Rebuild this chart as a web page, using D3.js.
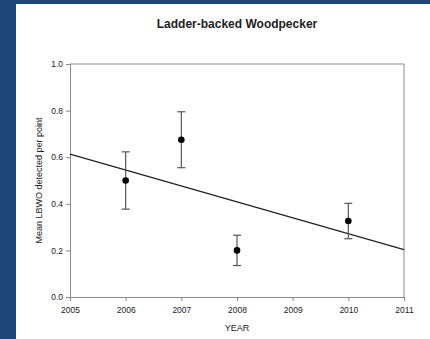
<!DOCTYPE html>
<html>
<head>
<meta charset="utf-8">
<script src="https://cdn.jsdelivr.net/npm/d3@7"></script>
<style>
  html, body { margin: 0; padding: 0; background: #1f4676; }
  svg { display: block; }
  text { font-family: "Liberation Sans", Arial, sans-serif; fill: #222; }
</style>
</head>
<body>
<svg id="chart" width="430" height="339"></svg>
<script>
// Survey years and mean detections per point, with error half-widths
const years = [2006, 2007, 2008, 2010];
const means = [0.50, 0.675, 0.20, 0.326];
const errors = [0.123, 0.12, 0.065, 0.076];

// Fitted linear trend, given by its values at the ends of the x range
const trendYears = [2005, 2011];
const trendValues = [0.613, 0.203];

const xTicks = [2005, 2006, 2007, 2008, 2009, 2010, 2011];
const yTicks = [0.0, 0.2, 0.4, 0.6, 0.8, 1.0];

const svg = d3.select("#chart");

// Slide background and white panel
svg.append("rect").attr("x", 0).attr("y", 0).attr("width", 430).attr("height", 339).attr("fill", "#1f4676");
svg.append("rect").attr("x", 16).attr("y", 4).attr("width", 414).attr("height", 335).attr("fill", "#ffffff");

const plot = { left: 70, right: 404, top: 64, bottom: 297 };

const x = d3.scaleLinear().domain([2005, 2011]).range([plot.left, plot.right]);
const y = d3.scaleLinear().domain([0, 1]).range([plot.bottom, plot.top]);

const axisColor = "#8a8a8a";

// Frame: top and right edges
svg.append("line").attr("x1", plot.left).attr("x2", plot.right).attr("y1", plot.top).attr("y2", plot.top)
  .attr("stroke", axisColor).attr("stroke-width", 1);
svg.append("line").attr("x1", plot.right).attr("x2", plot.right).attr("y1", plot.top).attr("y2", plot.bottom)
  .attr("stroke", axisColor).attr("stroke-width", 1);

// Axes
const xAxis = svg.append("g").attr("transform", `translate(0,${plot.bottom})`)
  .call(d3.axisBottom(x).tickValues(xTicks).tickFormat(d3.format("d")).tickSizeOuter(0).tickSize(4).tickPadding(6));
const yAxis = svg.append("g").attr("transform", `translate(${plot.left},0)`)
  .call(d3.axisLeft(y).tickValues(yTicks).tickFormat(d3.format(".1f")).tickSizeOuter(0).tickSize(4).tickPadding(3));

[xAxis, yAxis].forEach(g => {
  g.select(".domain").attr("stroke", axisColor);
  g.selectAll(".tick line").attr("stroke", axisColor);
  g.selectAll(".tick text").attr("fill", "#222").style("font-size", "8.5px")
    .style("font-family", '"Liberation Sans", Arial, sans-serif');
});

// Trend line
svg.append("line")
  .attr("x1", x(trendYears[0])).attr("y1", y(trendValues[0]))
  .attr("x2", x(trendYears[1])).attr("y2", y(trendValues[1]))
  .attr("stroke", "#222").attr("stroke-width", 1.2);

// Error bars
const data = years.map((yr, i) => ({ yr, m: means[i], e: errors[i] }));
const bars = svg.append("g");
bars.selectAll("line.v").data(data).join("line").attr("class", "v")
  .attr("x1", d => x(d.yr)).attr("x2", d => x(d.yr))
  .attr("y1", d => y(d.m + d.e)).attr("y2", d => y(d.m - d.e))
  .attr("stroke", "#555").attr("stroke-width", 1.2);
bars.selectAll("line.t").data(data).join("line").attr("class", "t")
  .attr("x1", d => x(d.yr) - 4).attr("x2", d => x(d.yr) + 4)
  .attr("y1", d => y(d.m + d.e)).attr("y2", d => y(d.m + d.e))
  .attr("stroke", "#555").attr("stroke-width", 1.2);
bars.selectAll("line.b").data(data).join("line").attr("class", "b")
  .attr("x1", d => x(d.yr) - 4).attr("x2", d => x(d.yr) + 4)
  .attr("y1", d => y(d.m - d.e)).attr("y2", d => y(d.m - d.e))
  .attr("stroke", "#555").attr("stroke-width", 1.2);

// Mean points
svg.append("g").selectAll("circle").data(data).join("circle")
  .attr("cx", d => x(d.yr)).attr("cy", d => y(d.m)).attr("r", 3.3)
  .attr("fill", "#000");

// Title and axis labels
svg.append("text").attr("x", 237).attr("y", 28).attr("text-anchor", "middle")
  .style("font-size", "12px").style("font-weight", "bold").text("Ladder-backed Woodpecker");
svg.append("text").attr("x", 237).attr("y", 331).attr("text-anchor", "middle")
  .style("font-size", "9px").text("YEAR");
svg.append("text").attr("transform", `translate(42,${(plot.top + plot.bottom) / 2}) rotate(-90)`)
  .attr("text-anchor", "middle").style("font-size", "9px").text("Mean LBWO detected per point");
</script>
</body>
</html>
